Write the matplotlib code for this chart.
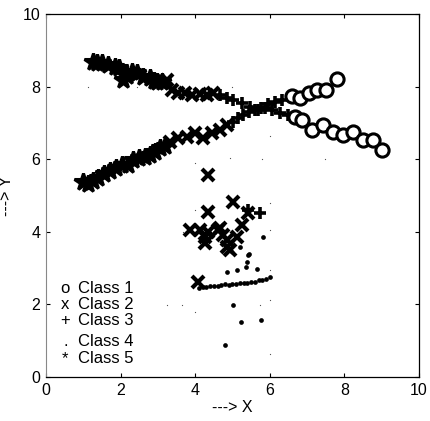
import matplotlib
matplotlib.use("Agg")
import matplotlib.pyplot as plt

plt.rcParams["font.family"] = ["Liberation Sans", "DejaVu Sans"]

# ── data ──────────────────────────────────────────────────────────────────────
# class 1 (o): end of the two crossing curves
c1_x = [6.60, 6.80, 7.05, 7.28, 7.50, 7.80,
        6.68, 6.86, 7.13, 7.43, 7.69, 7.96, 8.23, 8.50, 8.77, 9.00]
c1_y = [7.75, 7.70, 7.82, 7.90, 7.92, 8.20,
        7.16, 7.08, 6.80, 6.94, 6.75, 6.67, 6.75, 6.53, 6.53, 6.25]

# class 2 (x): middle of the curves plus the lower cluster
c2_x = [3.24, 3.38, 3.54, 3.73, 3.91, 4.13, 4.32, 4.48,
        3.32, 3.54, 3.78, 3.99, 4.21, 4.45, 4.66, 4.85,
        4.34, 4.34, 3.86, 4.13, 4.34, 4.61, 5.01, 4.26, 4.66, 4.85,
        4.93, 4.75, 5.12, 5.25, 5.42, 4.85, 4.26, 4.07]
c2_y = [8.18, 7.91, 7.83, 7.83, 7.77, 7.80, 7.77, 7.83,
        6.47, 6.58, 6.61, 6.72, 6.58, 6.72, 6.80, 6.94,
        5.56, 4.55, 4.05, 4.05, 4.00, 4.05, 4.82, 3.85, 4.10, 3.77,
        3.50, 3.90, 3.86, 4.19, 4.52, 3.58, 3.69, 2.62]

# class 3 (+)
c3_x = [4.66, 4.85, 5.01, 5.25, 5.47, 5.68, 5.87, 6.06, 6.27, 6.49,
        5.01, 5.15, 5.28, 5.44, 5.60, 5.76, 5.95, 6.14, 6.33,
        5.42, 5.74]
c3_y = [7.77, 7.69, 7.64, 7.55, 7.44, 7.36, 7.41, 7.36, 7.27, 7.22,
        7.02, 7.13, 7.22, 7.30, 7.36, 7.41, 7.52, 7.58, 7.64,
        4.60, 4.52]

# class 4 (.): dots in the lower cluster
c4_x = [5.82, 5.20, 5.42, 5.39, 5.36, 5.66, 5.12, 4.85, 5.01, 5.23,
        5.76, 4.80, 5.45,
        4.10, 4.20, 4.30, 4.40, 4.50, 4.60, 4.70, 4.80, 4.90, 5.00,
        5.10, 5.20, 5.30, 5.40, 5.50, 5.60, 5.70, 5.80, 5.90, 6.00]
c4_y = [3.86, 3.58, 3.36, 3.17, 3.03, 2.98, 2.95, 2.90, 1.98, 1.52,
        1.57, 0.88, 3.40,
        2.45, 2.48, 2.47, 2.50, 2.52, 2.50, 2.53, 2.55, 2.53, 2.57,
        2.56, 2.58, 2.60, 2.58, 2.63, 2.62, 2.66, 2.68, 2.70, 2.75]

# class 5 (*): start of the two curves
c5_x = [1.26, 1.37, 1.50, 1.66, 1.85, 1.96, 2.06, 2.17, 2.31, 2.44,
        2.60, 2.79, 2.90, 2.98, 3.11,
        0.99, 1.13, 1.26, 1.39, 1.55, 1.72, 1.88, 2.04, 2.20, 2.33,
        2.49, 2.65, 2.79, 2.92, 3.06, 3.19]
c5_y = [8.68, 8.65, 8.65, 8.60, 8.54, 8.51, 8.18, 8.29, 8.40, 8.37,
        8.26, 8.23, 8.15, 8.13, 8.13,
        5.37, 5.32, 5.40, 5.48, 5.59, 5.67, 5.76, 5.84, 5.84, 5.98,
        6.03, 6.06, 6.12, 6.20, 6.31, 6.36]

# faint specks scattered over the plot
speck_x = [1.13, 2.44, 4.99, 4.93, 6.00, 5.79, 7.48, 3.99, 3.99, 3.67,
           6.00, 6.00, 6.00, 6.00, 6.00, 3.24, 3.65, 3.99, 5.74]
speck_y = [7.99, 7.99, 7.99, 6.03, 6.64, 6.01, 6.01, 5.90, 4.60, 3.99,
           4.79, 4.05, 2.95, 2.12, 0.63, 1.98, 1.98, 1.79, 1.98]

legend_labels = ["Class 1", "Class 2", "Class 3", "Class 4", "Class 5"]
legend_symbols = ["o", "x", "+", ".", "*"]
ticks = [0, 2, 4, 6, 8, 10]

# ── figure ────────────────────────────────────────────────────────────────────
fig = plt.figure(figsize=(4.3, 4.21), dpi=100)
ax = fig.add_axes([0.107, 0.1045, 0.867, 0.862])

ax.plot(speck_x, speck_y, linestyle="none", marker="s", ms=0.8,
        color="#555555", mew=0)
ax.plot(c5_x, c5_y, linestyle="none", marker="*", ms=13, color="black",
        mec="black", mew=2.2)
ax.plot(c4_x, c4_y, linestyle="none", marker="o", ms=3.4, color="black",
        mew=0)
ax.plot(c3_x, c3_y, linestyle="none", marker="+", ms=9, color="black",
        mew=2.6)
ax.plot(c2_x, c2_y, linestyle="none", marker="x", ms=8, color="black",
        mew=3.0)
ax.plot(c1_x, c1_y, linestyle="none", marker="o", ms=9.5, mfc="white",
        mec="black", mew=2.2)

# hand-written legend, matching the original's text-style layout
legend_y = [2.45, 2.00, 1.55, 0.98, 0.52]
for sym, lab, ly in zip(legend_symbols, legend_labels, legend_y):
    ax.text(0.52, ly, sym, fontsize=12, ha="center", va="center")
    ax.text(0.86, ly, lab, fontsize=12, ha="left", va="center")

ax.set_xlim(0, 10)
ax.set_ylim(0, 10)
ax.set_xticks(ticks)
ax.set_yticks(ticks)
ax.tick_params(direction="in", length=3, width=0.8, labelsize=11.5,
               top=True, right=True, pad=4)
ax.set_xlabel("---> X", fontsize=11.5, labelpad=2)
ax.set_ylabel("---> Y", fontsize=11.5)
ax.yaxis.set_label_coords(-0.085, 0.5)
for side in ["top", "right", "bottom"]:
    ax.spines[side].set_linewidth(0.9)
ax.spines["left"].set_color("#888888")

fig.savefig("out.png", dpi=100)
plt.close(fig)
